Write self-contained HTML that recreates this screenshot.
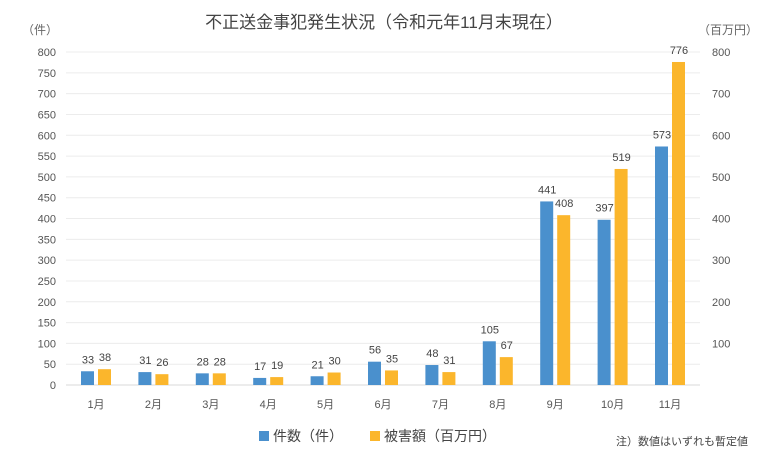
<!DOCTYPE html>
<html><head><meta charset="utf-8">
<style>
body{margin:0;background:#fff;}
svg text{font-family:"Liberation Sans","Noto Sans CJK JP",sans-serif;}
</style></head>
<body>
<svg width="768" height="460" xmlns="http://www.w3.org/2000/svg">
<text x="384" y="28" text-anchor="middle" font-size="17" fill="#444">不正送金事犯発生状況（令和元年11月末現在）</text>
<text x="22" y="34" font-size="12" fill="#666">（件）</text>
<text x="698" y="34" font-size="12" fill="#666">（百万円）</text>
<g id="grid"></g>
<g id="bars"></g>
<g id="xlabels"></g>
<g>
<rect x="259" y="431" width="10" height="10" fill="#4a90cd"/>
<text x="273" y="441" font-size="14" fill="#444">件数（件）</text>
<rect x="370" y="431" width="10" height="10" fill="#fbb62c"/>
<text x="384" y="441" font-size="14" fill="#444">被害額（百万円）</text>
</g>
<text x="748" y="445" text-anchor="end" font-size="11" fill="#444">注）数値はいずれも暫定値</text>
</svg>
<script>
const categories=["1月","2月","3月","4月","5月","6月","7月","8月","9月","10月","11月"];
const counts=[33,31,28,17,21,56,48,105,441,397,573];
const damages=[38,26,28,19,30,35,31,67,408,519,776];
const leftTicks=[0,50,100,150,200,250,300,350,400,450,500,550,600,650,700,750,800];
const rightTicks=[100,200,300,400,500,600,700,800];
const NS="http://www.w3.org/2000/svg";
const y0=385,yTop=52,plotL=66,plotR=700;
function y(v){return y0-(v/800)*(y0-yTop);}
function xc(i){return 96+i*(670-96)/(categories.length-1);}
function mk(tag,attrs,parent){const e=document.createElementNS(NS,tag);for(const k in attrs)e.setAttribute(k,attrs[k]);parent.appendChild(e);return e;}
const grid=document.getElementById('grid'),bars=document.getElementById('bars'),xl=document.getElementById('xlabels');
leftTicks.forEach(t=>{
  const l=mk('line',{x1:plotL,x2:plotR,y1:y(t),y2:y(t),stroke:t===0?'#d9d9d9':'#ececec','stroke-width':1},grid);
  
  
  const tx=mk('text',{x:56,y:y(t)+4,'text-anchor':'end','font-size':11,fill:'#555'},grid);
  tx.textContent=t;
  
  
});
rightTicks.forEach(t=>{
  const tx=mk('text',{x:712,y:y(t)+4,'font-size':11,fill:'#555'},grid);
  tx.textContent=t;
  
  
});
categories.forEach((c,i)=>{
  const cx=xc(i);
  const b1=mk('rect',{x:cx-15,y:y(counts[i]),width:13,height:y0-y(counts[i]),fill:'#4a90cd'},bars);
  
  
  const b2=mk('rect',{x:cx+2,y:y(damages[i]),width:13,height:y0-y(damages[i]),fill:'#fbb62c'},bars);
  
  
  const t1=mk('text',{x:cx-8,y:y(counts[i])-8,'text-anchor':'middle','font-size':11,fill:'#444'},bars);
  t1.textContent=counts[i];
  
  
  const t2=mk('text',{x:cx+9,y:y(damages[i])-8,'text-anchor':'middle','font-size':11,fill:'#444'},bars);
  t2.textContent=damages[i];
  
  
  const xt=mk('text',{x:cx,y:408,'text-anchor':'middle','font-size':11,fill:'#555'},xl);
  xt.textContent=c;
  
  
});
</script>
</body></html>
